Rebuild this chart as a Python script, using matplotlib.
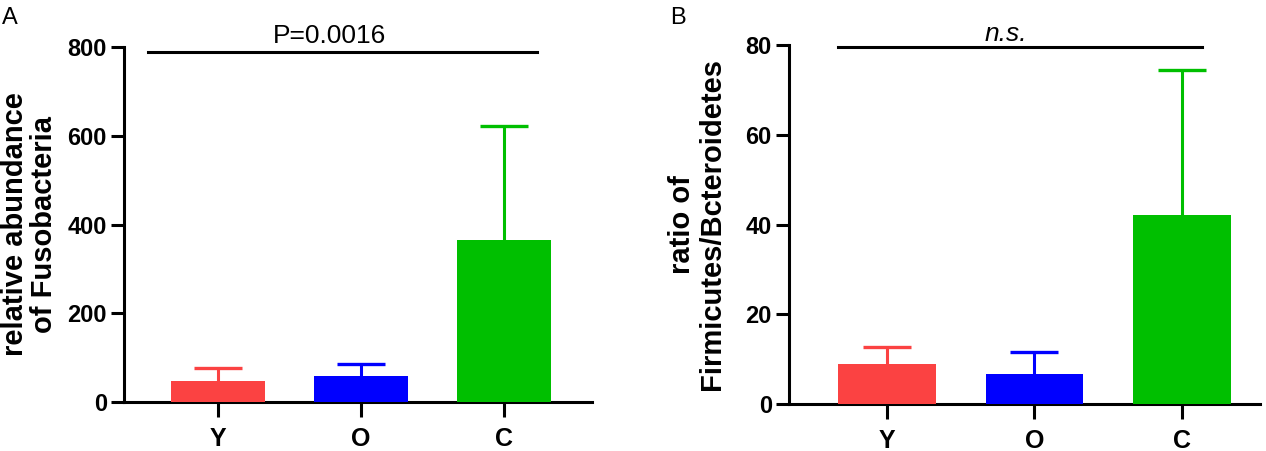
import matplotlib
matplotlib.use("Agg")
import matplotlib.pyplot as plt

groups = ["Y", "O", "C"]
colors = ["#FB4242", "#0000FF", "#00BF00"]

fuso_mean = [46.5, 59, 365]
fuso_err = [30, 26.5, 258]

fb_mean = [9.0, 6.75, 42.1]
fb_err = [3.8, 4.75, 32.4]

plt.rcParams['font.family'] = ['Liberation Sans', 'DejaVu Sans']

W, H = 1266, 451
fig = plt.figure(figsize=(W / 100, H / 100), dpi=100)


def px_axes(left, right, top, bottom):
    return fig.add_axes([left / W, 1 - bottom / H, (right - left) / W, (bottom - top) / H])


def style(ax, means, errs, ymax, yticks):
    x = list(range(len(groups)))
    ax.bar(x, means, width=0.66, color=colors, zorder=3, edgecolor='none')
    for i in x:
        eb = ax.errorbar(i, means[i], yerr=[[0], [errs[i]]], color=colors[i],
                         elinewidth=2.2, capsize=17, capthick=2.4, zorder=2)
        caps = eb[1]
        if len(caps) > 1:
            caps[0].set_visible(False)
    ax.set_ylim(0, ymax)
    ax.set_yticks(yticks)
    ax.set_xticks(x)
    ax.set_xticklabels(groups, fontsize=18, fontweight='bold')
    for lab in ax.get_yticklabels():
        lab.set_fontsize(17)
        lab.set_fontweight('bold')
    for s in ['top', 'right']:
        ax.spines[s].set_visible(False)
    for s in ['left', 'bottom']:
        ax.spines[s].set_linewidth(2.2)
    ax.tick_params(axis='x', length=10.8, width=2.2, pad=7)
    ax.tick_params(axis='y', length=9.4, width=2.2, pad=3)


# Panel A
axA = px_axes(124, 592, 47, 402)
style(axA, fuso_mean, fuso_err, 800, [0, 200, 400, 600, 800])
axA.set_xlim(-0.657, 2.615)
axA.plot([-0.49, 2.23], [788, 788], color='black', lw=2.2, clip_on=False)
axA.text(0.78, 797, "P=0.0016", ha='center', va='bottom', fontsize=19, clip_on=False)

# Panel B
axB = px_axes(789, 1260, 45, 404)
style(axB, fb_mean, fb_err, 80, [0, 20, 40, 60, 80])
axB.set_xlim(-0.664, 2.53)
axB.plot([-0.33, 2.14], [79.5, 79.5], color='black', lw=2.2, clip_on=False)
axB.text(0.81, 79.8, "n.s.", ha='center', va='bottom', fontsize=19, style='italic', clip_on=False)

# y labels
fig.text(29.5 / W, 1 - 224.5 / H, "relative abundance\nof Fusobacteria", rotation=90,
         ha='center', va='center', fontsize=21, fontweight='bold', linespacing=1.05)
fig.text(697 / W, 1 - 224.5 / H, "ratio of\nFirmicutes/Bcteroidetes", rotation=90,
         ha='center', va='center', fontsize=21, fontweight='bold', linespacing=1.05)

# panel letters
fig.text(2 / W, 1 - 7 / H, "A", ha='left', va='top', fontsize=17)
fig.text(670 / W, 1 - 7 / H, "B", ha='left', va='top', fontsize=17)

fig.savefig("out.png", dpi=100)
